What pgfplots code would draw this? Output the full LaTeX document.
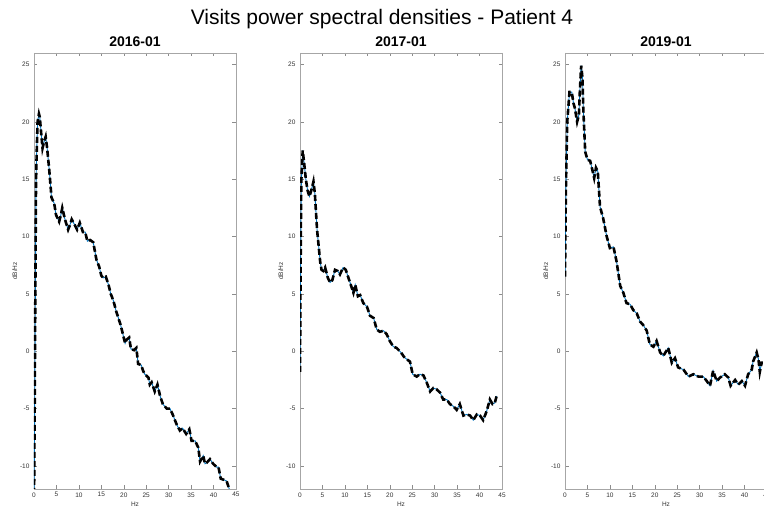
\documentclass[border=0pt]{standalone}
\usepackage{fontspec}
\setmainfont{Liberation Sans}
\usepackage{pgfplots}
\pgfplotsset{compat=1.18}
\definecolor{mblue}{rgb}{0,0.447,0.741}
\pgfplotsset{
  psd/.style={
    scale only axis, width=202pt, height=436pt,
    xmin=0, xmax=45, ymin=-12, ymax=26,
    xtick={0,5,...,45}, ytick={-10,-5,...,25},
    tick align=inside, major tick length=3.5pt,
    axis line style={black!35, line width=0.5pt},
    every tick/.style={black!45, line width=0.5pt},
    ticklabel style={font=\fontsize{6.5}{7}\selectfont, text=black!80},
    xticklabel style={yshift=0pt},
    yticklabel style={xshift=-1pt},
    /pgf/number format/assume math mode=true,
    xlabel={Hz}, ylabel={dB/Hz},
    label style={font=\fontsize{6.5}{7}\selectfont, text=black!80},
    xlabel style={yshift=2pt},
    ylabel style={yshift=-4pt},
    title style={font=\fontsize{14}{16}\selectfont\bfseries, yshift=-3pt},
    clip=true,
  },
  blueline/.style={mblue, line width=0.9pt},
  blackdash/.style={black, line width=2.6pt, dash pattern=on 6pt off 3pt},
}
\begin{document}
\begin{tikzpicture}[x=1pt,y=1pt]
\useasboundingbox (0,0) rectangle (764,511);
\node[font=\fontsize{21}{24}\selectfont] at (382,492) {Visits power spectral densities - Patient 4};
% ---------- 2016-01
\begin{axis}[psd, at={(34pt,22pt)}, anchor=south west, title={2016-01}]
\def\dataA{(0,-14) (0.15,-5) (0.3,5) (0.45,14.7) (0.6,17.3) (0.8,20.0) (1.1,20.7) (1.3,20.4) (1.6,19.0) (1.9,17.7) (2.2,18.2) (2.6,18.7) (2.9,17.8) (3.4,15.8) (3.9,13.4) (4.5,12.9) (4.9,11.9) (5.6,11.3) (6.0,11.9) (6.3,12.5) (6.9,11.5) (7.6,10.6) (8.0,11.0) (8.4,11.5) (9.1,11.0) (9.6,10.6) (10.2,11.2) (10.9,10.4) (11.4,10.4) (11.9,9.6) (12.5,9.7) (13.2,9.5) (13.9,8.0) (14.5,7.4) (15.0,6.6) (15.4,6.4) (16.0,6.5) (16.6,5.8) (17.1,5.0) (17.7,4.4) (18.3,3.5) (18.8,2.9) (19.3,2.3) (19.8,1.5) (20.3,0.7) (20.6,1.0) (21.2,1.2) (21.6,0.2) (22.3,0.1) (22.8,0.3) (23.2,-1.1) (23.9,-1.2) (24.3,-1.7) (24.7,-2.0) (25.5,-2.3) (25.8,-2.9) (26.2,-2.7) (26.9,-3.5) (27.5,-2.9) (28.1,-3.9) (28.7,-4.6) (29.6,-5.0) (30.3,-5.0) (31.0,-5.6) (31.8,-6.4) (32.5,-6.9) (33.1,-6.7) (33.9,-7.2) (34.6,-6.8) (35.1,-7.8) (35.9,-7.8) (36.6,-8.4) (37.0,-9.6) (37.7,-9.1) (38.1,-9.8) (38.5,-9.7) (39.2,-9.4) (39.9,-9.8) (40.7,-10.1) (41.1,-10.1) (41.6,-11.1) (42.3,-11.2) (42.9,-11.3) (43.5,-12.0) (44,-12.5)}
\addplot[blueline] coordinates {\dataA};
\addplot[blackdash] coordinates {\dataA};
\end{axis}
% ---------- 2017-01
\begin{axis}[psd, at={(300pt,22pt)}, anchor=south west, title={2017-01}]
\def\dataB{(0,-1.8) (0.1,5) (0.2,11) (0.3,14.9) (0.6,17.5) (0.9,16.5) (1.3,15.0) (1.7,14.0) (2.1,13.5) (2.5,14.0) (3.0,14.8) (3.3,13.8) (3.8,10.6) (4.2,9.0) (4.5,7.8) (4.8,7.1) (5.2,7.0) (5.6,7.3) (6.2,6.4) (6.7,6.0) (7.2,6.2) (7.8,7.1) (8.4,7.0) (8.9,6.7) (9.6,7.3) (10.2,7.1) (10.8,6.4) (11.4,5.7) (11.9,5.1) (12.3,5.8) (12.9,4.8) (13.4,4.9) (14.1,4.2) (14.9,3.9) (15.6,3.1) (16.4,2.9) (17.1,1.9) (17.8,1.7) (18.6,1.8) (19.3,1.5) (20.0,0.9) (20.8,0.4) (21.5,0.3) (22.5,-0.1) (23.2,-0.5) (23.8,-0.7) (24.5,-0.9) (25.1,-2.0) (26.0,-2.2) (26.7,-2.0) (27.5,-2.1) (28.2,-2.7) (29.0,-3.5) (29.7,-3.2) (30.4,-3.3) (31.2,-3.6) (31.9,-4.2) (32.7,-4.2) (33.4,-4.6) (34.2,-4.8) (34.9,-5.1) (35.6,-4.6) (36.4,-5.6) (37.1,-5.5) (37.9,-5.6) (38.6,-6.0) (39.4,-5.5) (40.1,-5.6) (40.8,-6.0) (41.6,-5.2) (42.3,-4.2) (42.9,-4.6) (43.4,-4.5) (43.8,-3.9)}
\addplot[blueline] coordinates {\dataB};
\addplot[blackdash] coordinates {\dataB};
\end{axis}
% ---------- 2019-01
\begin{axis}[psd, at={(565pt,22pt)}, anchor=south west, title={2019-01}]
\def\dataC{(0,6.5) (0.2,14.2) (0.5,20.0) (1.0,22.6) (1.5,22.6) (1.9,21.6) (2.2,21.2) (2.7,20.0) (3.1,20.6) (3.3,22.6) (3.6,24.9) (3.9,23.8) (4.1,20.9) (4.5,17.4) (5.0,16.7) (5.6,16.6) (6.1,15.8) (6.5,15.1) (6.9,16.0) (7.3,15.7) (7.8,12.6) (8.5,11.6) (9.3,10.0) (10.0,9.0) (10.8,9.1) (11.5,7.8) (12.3,5.7) (13.0,5.1) (13.7,4.2) (14.5,4.1) (15.2,3.6) (16.0,3.3) (16.7,2.6) (17.4,2.3) (18.2,1.8) (18.9,0.6) (19.7,0.4) (20.4,0.9) (21.2,-0.1) (21.9,-0.4) (23.0,0.3) (23.8,-1.0) (24.5,-0.6) (25.2,-1.4) (26.4,-1.6) (27.5,-2.2) (28.6,-2.0) (29.7,-2.2) (30.8,-2.2) (31.6,-2.6) (32.3,-3.0) (33.0,-1.7) (33.8,-2.6) (34.5,-2.3) (35.6,-2.0) (36.4,-2.3) (36.9,-3.0) (37.9,-2.5) (38.6,-2.9) (39.4,-2.6) (40.1,-3.0) (40.8,-2.0) (41.6,-1.6) (41.9,-0.9) (42.7,-0.1) (43.1,-0.7) (43.4,-1.8) (43.8,-1.0) (44.1,-1.0)}
\addplot[blueline] coordinates {\dataC};
\addplot[blackdash] coordinates {\dataC};
\end{axis}
\end{tikzpicture}
\end{document}
